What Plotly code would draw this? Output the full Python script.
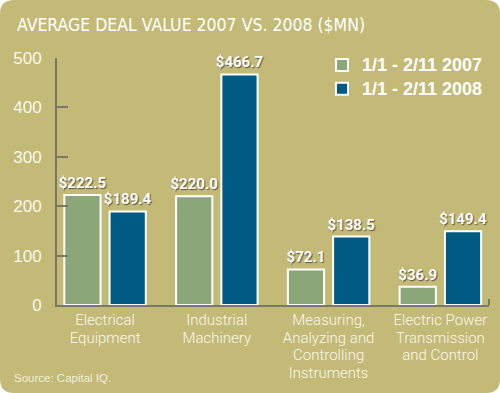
import plotly.graph_objects as go

categories = ["Electrical<br>Equipment", "Industrial<br>Machinery",
              "Measuring,<br>Analyzing and<br>Controlling<br>Instruments",
              "Electric Power<br>Transmission<br>and Control"]
series_names = ["1/1 - 2/11 2007", "1/1 - 2/11 2008"]
values_2007 = [222.5, 220.0, 72.1, 36.9]
values_2008 = [189.4, 466.7, 138.5, 149.4]
y_ticks = [0, 100, 200, 300, 400, 500]

BG = "#C3BA77"
GREEN = "#8BA679"
BLUE = "#005A84"
AXIS = "#7A7868"
TXT = "#FAF8EE"
COND = "DejaVu Sans Condensed, sans-serif"
ROBOTO = "Roboto, Liberation Sans, sans-serif"
SANS = "Liberation Sans, Arial, sans-serif"

def lbl(s, px):
    return "<br>".join('<span style="font-size:%spx">%s</span>' % (px, p) for p in s.split("<br>"))

tick_text = [lbl(c, 15) for c in categories]

fig = go.Figure()
for name, vals, col in [(series_names[0], values_2007, GREEN), (series_names[1], values_2008, BLUE)]:
    fig.add_trace(go.Bar(
        x=categories, y=vals, name=lbl(name, 18),
        marker=dict(color=col, line=dict(color="white", width=2)),
        texttemplate="$%{y:.1f}", textposition="outside", constraintext="none",
        textfont=dict(family=ROBOTO, size=15, color="white", weight="bold",
                      shadow="1px 1px 1px #5a5540"),
        cliponaxis=False,
    ))

W, H = 500, 393
ml, mr, mt, mb = 57, 11, 58, 88
pw, ph = W - ml - mr, H - mt - mb
X0, X1 = -ml / pw, (W - ml) / pw
Y0, Y1 = -mb / ph, 1 + mt / ph
rx, ry = 14 / pw, 14 / ph
path = (f"M{X0+rx},{Y1} L{X1-rx},{Y1} Q{X1},{Y1} {X1},{Y1-ry} "
        f"L{X1},{Y0+ry} Q{X1},{Y0} {X1-rx},{Y0} L{X0+rx},{Y0} "
        f"Q{X0},{Y0} {X0},{Y0+ry} L{X0},{Y1-ry} Q{X0},{Y1} {X0+rx},{Y1} Z")

fig.update_layout(
    width=W, height=H,
    margin=dict(l=ml, r=mr, t=mt, b=mb, pad=0),
    paper_bgcolor="white", plot_bgcolor="rgba(0,0,0,0)",
    barmode="group", bargap=0.19, bargroupgap=0.2,
    showlegend=True,
    legend=dict(x=(322 - ml) / pw, xanchor="left", y=1 + (mt - 48) / ph, yanchor="top",
                bgcolor="rgba(0,0,0,0)", borderwidth=0,
                font=dict(family=SANS, size=16, color="white", weight="bold"),
                tracegroupgap=0),
    shapes=[dict(type="path", xref="paper", yref="paper", path=path,
                 fillcolor=BG, line=dict(width=0), layer="below"),
            dict(type="line", xref="paper", yref="paper", x0=1, x1=1, y0=0, y1=6 / ph,
                 line=dict(color=AXIS, width=2))],
    annotations=[
        dict(text="AVERAGE DEAL VALUE 2007 VS. 2008 ($MN)", xref="paper", yref="paper",
             x=(15 - ml) / pw, y=1 + (mt - 25) / ph, xanchor="left", yanchor="middle",
             showarrow=False, font=dict(family=COND, size=17.5, color="white")),
        dict(text="Source: Capital IQ.", xref="paper", yref="paper",
             x=(12 - ml) / pw, y=-(378 - (H - mb)) / ph, xanchor="left", yanchor="middle",
             showarrow=False, font=dict(family=SANS, size=11.5, color="#F2EFDC")),
    ],
)
fig.update_xaxes(range=[-0.43, 3.435], showline=True, linecolor=AXIS, linewidth=2,
                 ticks="", showgrid=False, zeroline=False,
                 tickvals=categories, ticktext=tick_text,
                 tickfont=dict(family=ROBOTO, size=13.5, color=TXT, weight=300), tickangle=0,
                 ticklabelstandoff=2)
fig.update_yaxes(range=[0, 500], tickvals=y_ticks, showline=True, linecolor=AXIS, linewidth=2,
                 ticks="inside", ticklen=11, tickwidth=2, tickcolor=AXIS,
                 showgrid=False, zeroline=False,
                 tickfont=dict(family=SANS, size=17, color=TXT), ticklabelstandoff=10)

fig.write_html("out.html", config={"displayModeBar": False},
               post_script="document.body.style.margin='0';")
